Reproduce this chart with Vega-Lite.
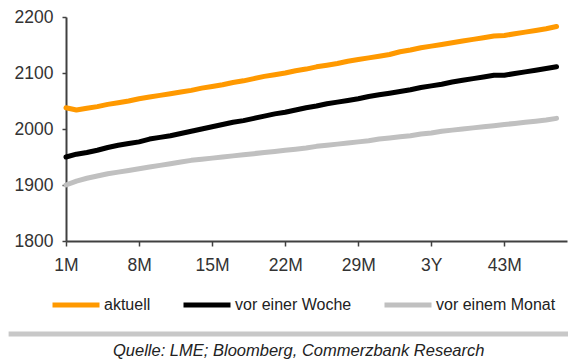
{
  "$schema": "https://vega.github.io/schema/vega-lite/v6.json",
  "autosize": {"type": "none"},
  "width": 501,
  "height": 224,
  "padding": {"left": 66, "top": 17, "right": 1, "bottom": 120},
  "background": "white",
  "title": {
    "text": "Quelle: LME; Bloomberg, Commerzbank Research",
    "orient": "bottom",
    "anchor": "start",
    "frame": "group",
    "dx": 47,
    "offset": 7,
    "font": "Liberation Sans",
    "fontSize": 16.5,
    "fontStyle": "italic",
    "fontWeight": "normal",
    "color": "#222222"
  },
  "data": {
    "values": [
      {"m": 1, "s": "aktuell", "v": 2038}, {"m": 2, "s": "aktuell", "v": 2034}, {"m": 3, "s": "aktuell", "v": 2037},
      {"m": 4, "s": "aktuell", "v": 2040}, {"m": 5, "s": "aktuell", "v": 2044}, {"m": 6, "s": "aktuell", "v": 2047},
      {"m": 7, "s": "aktuell", "v": 2050}, {"m": 8, "s": "aktuell", "v": 2054}, {"m": 9, "s": "aktuell", "v": 2057},
      {"m": 10, "s": "aktuell", "v": 2060}, {"m": 11, "s": "aktuell", "v": 2063}, {"m": 12, "s": "aktuell", "v": 2066},
      {"m": 13, "s": "aktuell", "v": 2069}, {"m": 14, "s": "aktuell", "v": 2073}, {"m": 15, "s": "aktuell", "v": 2076},
      {"m": 16, "s": "aktuell", "v": 2079}, {"m": 17, "s": "aktuell", "v": 2083}, {"m": 18, "s": "aktuell", "v": 2086},
      {"m": 19, "s": "aktuell", "v": 2090}, {"m": 20, "s": "aktuell", "v": 2094}, {"m": 21, "s": "aktuell", "v": 2097},
      {"m": 22, "s": "aktuell", "v": 2100}, {"m": 23, "s": "aktuell", "v": 2104}, {"m": 24, "s": "aktuell", "v": 2107},
      {"m": 25, "s": "aktuell", "v": 2111}, {"m": 26, "s": "aktuell", "v": 2114}, {"m": 27, "s": "aktuell", "v": 2117},
      {"m": 28, "s": "aktuell", "v": 2121}, {"m": 29, "s": "aktuell", "v": 2124}, {"m": 30, "s": "aktuell", "v": 2127},
      {"m": 31, "s": "aktuell", "v": 2130}, {"m": 32, "s": "aktuell", "v": 2133}, {"m": 33, "s": "aktuell", "v": 2138},
      {"m": 34, "s": "aktuell", "v": 2141}, {"m": 35, "s": "aktuell", "v": 2145}, {"m": 36, "s": "aktuell", "v": 2148},
      {"m": 37, "s": "aktuell", "v": 2151}, {"m": 38, "s": "aktuell", "v": 2154}, {"m": 39, "s": "aktuell", "v": 2157},
      {"m": 40, "s": "aktuell", "v": 2160}, {"m": 41, "s": "aktuell", "v": 2163}, {"m": 42, "s": "aktuell", "v": 2166},
      {"m": 43, "s": "aktuell", "v": 2167}, {"m": 44, "s": "aktuell", "v": 2170}, {"m": 45, "s": "aktuell", "v": 2173},
      {"m": 46, "s": "aktuell", "v": 2176}, {"m": 47, "s": "aktuell", "v": 2179}, {"m": 48, "s": "aktuell", "v": 2183},

      {"m": 1, "s": "vor einer Woche", "v": 1950}, {"m": 2, "s": "vor einer Woche", "v": 1955}, {"m": 3, "s": "vor einer Woche", "v": 1958},
      {"m": 4, "s": "vor einer Woche", "v": 1962}, {"m": 5, "s": "vor einer Woche", "v": 1967}, {"m": 6, "s": "vor einer Woche", "v": 1971},
      {"m": 7, "s": "vor einer Woche", "v": 1974}, {"m": 8, "s": "vor einer Woche", "v": 1977}, {"m": 9, "s": "vor einer Woche", "v": 1982},
      {"m": 10, "s": "vor einer Woche", "v": 1985}, {"m": 11, "s": "vor einer Woche", "v": 1988}, {"m": 12, "s": "vor einer Woche", "v": 1992},
      {"m": 13, "s": "vor einer Woche", "v": 1996}, {"m": 14, "s": "vor einer Woche", "v": 2000}, {"m": 15, "s": "vor einer Woche", "v": 2004},
      {"m": 16, "s": "vor einer Woche", "v": 2008}, {"m": 17, "s": "vor einer Woche", "v": 2012}, {"m": 18, "s": "vor einer Woche", "v": 2015},
      {"m": 19, "s": "vor einer Woche", "v": 2019}, {"m": 20, "s": "vor einer Woche", "v": 2023}, {"m": 21, "s": "vor einer Woche", "v": 2027},
      {"m": 22, "s": "vor einer Woche", "v": 2030}, {"m": 23, "s": "vor einer Woche", "v": 2034}, {"m": 24, "s": "vor einer Woche", "v": 2038},
      {"m": 25, "s": "vor einer Woche", "v": 2041}, {"m": 26, "s": "vor einer Woche", "v": 2045}, {"m": 27, "s": "vor einer Woche", "v": 2048},
      {"m": 28, "s": "vor einer Woche", "v": 2051}, {"m": 29, "s": "vor einer Woche", "v": 2054}, {"m": 30, "s": "vor einer Woche", "v": 2058},
      {"m": 31, "s": "vor einer Woche", "v": 2061}, {"m": 32, "s": "vor einer Woche", "v": 2064}, {"m": 33, "s": "vor einer Woche", "v": 2067},
      {"m": 34, "s": "vor einer Woche", "v": 2070}, {"m": 35, "s": "vor einer Woche", "v": 2074}, {"m": 36, "s": "vor einer Woche", "v": 2077},
      {"m": 37, "s": "vor einer Woche", "v": 2080}, {"m": 38, "s": "vor einer Woche", "v": 2084}, {"m": 39, "s": "vor einer Woche", "v": 2087},
      {"m": 40, "s": "vor einer Woche", "v": 2090}, {"m": 41, "s": "vor einer Woche", "v": 2093}, {"m": 42, "s": "vor einer Woche", "v": 2096},
      {"m": 43, "s": "vor einer Woche", "v": 2096}, {"m": 44, "s": "vor einer Woche", "v": 2099}, {"m": 45, "s": "vor einer Woche", "v": 2102},
      {"m": 46, "s": "vor einer Woche", "v": 2105}, {"m": 47, "s": "vor einer Woche", "v": 2108}, {"m": 48, "s": "vor einer Woche", "v": 2111},

      {"m": 1, "s": "vor einem Monat", "v": 1900}, {"m": 2, "s": "vor einem Monat", "v": 1907}, {"m": 3, "s": "vor einem Monat", "v": 1912},
      {"m": 4, "s": "vor einem Monat", "v": 1916}, {"m": 5, "s": "vor einem Monat", "v": 1920}, {"m": 6, "s": "vor einem Monat", "v": 1923},
      {"m": 7, "s": "vor einem Monat", "v": 1926}, {"m": 8, "s": "vor einem Monat", "v": 1929}, {"m": 9, "s": "vor einem Monat", "v": 1932},
      {"m": 10, "s": "vor einem Monat", "v": 1935}, {"m": 11, "s": "vor einem Monat", "v": 1938}, {"m": 12, "s": "vor einem Monat", "v": 1941},
      {"m": 13, "s": "vor einem Monat", "v": 1944}, {"m": 14, "s": "vor einem Monat", "v": 1946}, {"m": 15, "s": "vor einem Monat", "v": 1948},
      {"m": 16, "s": "vor einem Monat", "v": 1950}, {"m": 17, "s": "vor einem Monat", "v": 1952}, {"m": 18, "s": "vor einem Monat", "v": 1954},
      {"m": 19, "s": "vor einem Monat", "v": 1956}, {"m": 20, "s": "vor einem Monat", "v": 1958}, {"m": 21, "s": "vor einem Monat", "v": 1960},
      {"m": 22, "s": "vor einem Monat", "v": 1962}, {"m": 23, "s": "vor einem Monat", "v": 1964}, {"m": 24, "s": "vor einem Monat", "v": 1966},
      {"m": 25, "s": "vor einem Monat", "v": 1969}, {"m": 26, "s": "vor einem Monat", "v": 1971}, {"m": 27, "s": "vor einem Monat", "v": 1973},
      {"m": 28, "s": "vor einem Monat", "v": 1975}, {"m": 29, "s": "vor einem Monat", "v": 1977}, {"m": 30, "s": "vor einem Monat", "v": 1979},
      {"m": 31, "s": "vor einem Monat", "v": 1982}, {"m": 32, "s": "vor einem Monat", "v": 1984}, {"m": 33, "s": "vor einem Monat", "v": 1986},
      {"m": 34, "s": "vor einem Monat", "v": 1988}, {"m": 35, "s": "vor einem Monat", "v": 1991}, {"m": 36, "s": "vor einem Monat", "v": 1993},
      {"m": 37, "s": "vor einem Monat", "v": 1996}, {"m": 38, "s": "vor einem Monat", "v": 1998}, {"m": 39, "s": "vor einem Monat", "v": 2000},
      {"m": 40, "s": "vor einem Monat", "v": 2002}, {"m": 41, "s": "vor einem Monat", "v": 2004}, {"m": 42, "s": "vor einem Monat", "v": 2006},
      {"m": 43, "s": "vor einem Monat", "v": 2008}, {"m": 44, "s": "vor einem Monat", "v": 2010}, {"m": 45, "s": "vor einem Monat", "v": 2012},
      {"m": 46, "s": "vor einem Monat", "v": 2014}, {"m": 47, "s": "vor einem Monat", "v": 2016}, {"m": 48, "s": "vor einem Monat", "v": 2019}
    ]
  },
  "layer": [
    {
      "mark": {"type": "line", "strokeWidth": 5, "strokeCap": "round", "strokeJoin": "round", "clip": false},
      "encoding": {
        "x": {
          "field": "m",
          "type": "quantitative",
          "scale": {"domain": [1, 49], "nice": false, "zero": false},
          "axis": {
            "title": null,
            "values": [1, 8, 15, 22, 29, 36, 43],
            "labelExpr": "datum.value == 36 ? '3Y' : datum.value + 'M'",
            "grid": false,
            "tickSize": 5,
            "labelPadding": 10,
            "labelFlush": false
          }
        },
        "y": {
          "field": "v",
          "type": "quantitative",
          "scale": {"domain": [1800, 2200], "nice": false, "zero": false},
          "axis": {
            "title": null,
            "values": [1800, 1900, 2000, 2100, 2200],
            "format": "d",
            "grid": false,
            "tickSize": 4,
            "labelPadding": 9
          }
        },
        "color": {
          "field": "s",
          "type": "nominal",
          "scale": {
            "domain": ["aktuell", "vor einer Woche", "vor einem Monat"],
            "range": ["#ff9900", "#000000", "#c0c0c0"]
          },
          "legend": {
            "title": null,
            "orient": "none",
            "direction": "horizontal",
            "legendX": -16,
            "legendY": 262,
            "columns": 3,
            "columnPadding": 22,
            "symbolType": "stroke",
            "symbolSize": 2209,
            "symbolStrokeWidth": 5,
            "labelOffset": 2,
            "labelFont": "Liberation Sans",
            "labelFontSize": 16,
            "labelColor": "#222222",
            "padding": 0
          }
        }
      }
    },
    {
      "data": {"values": [{"note": "separator"}]},
      "mark": {"type": "rule", "color": "#c8c8c8", "strokeWidth": 5, "clip": false},
      "encoding": {
        "x": {"datum": -4.5},
        "x2": {"datum": 50},
        "y": {"datum": 1634}
      }
    }
  ],
  "config": {
    "view": {"stroke": null},
    "axis": {
      "labelFont": "Liberation Sans",
      "labelFontSize": 17.5,
      "labelColor": "#333333",
      "domainColor": "#404040",
      "domainWidth": 2,
      "tickColor": "#404040",
      "tickWidth": 1.5
    }
  }
}
